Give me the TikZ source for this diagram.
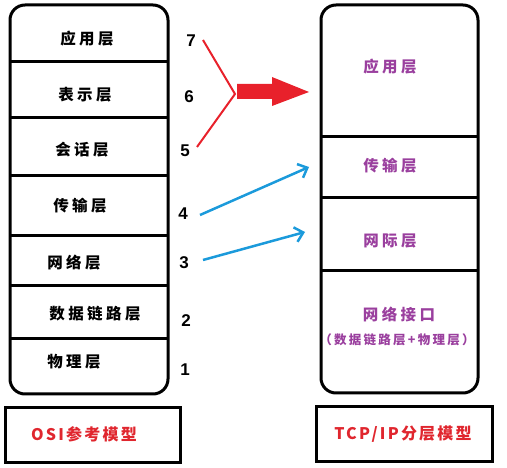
\documentclass[tikz,border=0pt]{standalone}
\usepackage{fontspec}
\newfontfamily\cjk[LetterSpace=22]{Noto Sans CJK SC}
\newfontfamily\cjktitle[LetterSpace=14]{Noto Sans CJK SC}
\newfontfamily\cjksmall[LetterSpace=18]{Noto Sans CJK SC}
\newfontfamily\numfont{Liberation Sans}
\definecolor{layerpurple}{HTML}{9A3F9E}
\definecolor{titlered}{HTML}{E0262E}
\definecolor{linkred}{HTML}{E8212B}
\definecolor{linkblue}{HTML}{1B9ADB}
\usetikzlibrary{arrows.meta}
\tikzset{
  frame/.style={draw=black, line width=3pt},
  divider/.style={draw=black, line width=3pt},
  osilabel/.style={font=\cjk\bfseries\fontsize{15.5}{16}\selectfont, text=black, inner sep=0pt},
  tcplabel/.style={font=\cjk\bfseries\fontsize{15.5}{16}\selectfont, text=layerpurple, inner sep=0pt},
  tcpsub/.style={font=\cjksmall\bfseries\fontsize{12.5}{13}\selectfont, text=layerpurple, inner sep=0pt},
  layernum/.style={font=\numfont\bfseries\fontsize{17}{17}\selectfont, inner sep=0pt},
  title/.style={font=\cjktitle\bfseries\fontsize{16}{16}\selectfont, text=titlered, inner sep=0pt},
  redlink/.style={draw=linkred, line width=2pt},
  bluelink/.style={draw=linkblue, line width=2.5pt, -{Straight Barb[length=8pt, width=15pt, line width=2.5pt]}},
}
\begin{document}
\begin{tikzpicture}[x=1pt, y=-1pt]
\useasboundingbox (0,0) rectangle (507,468);

% OSI seven-layer stack
\draw[frame, rounded corners=15pt] (10,5) rectangle (168,394);
\foreach \yy in {62,118,176,236,286,339}
  \draw[divider] (10,\yy) -- (168,\yy);
\node[osilabel] (osi7) at (87,39) {应用层};
\node[osilabel] (osi6) at (85,95) {表示层};
\node[osilabel] (osi5) at (82,150) {会话层};
\node[osilabel] (osi4) at (80,206) {传输层};
\node[osilabel] (osi3) at (74,263) {网络层};
\node[osilabel] (osi2) at (95,314) {数据链路层};
\node[osilabel] (osi1) at (74,362) {物理层};

\node[layernum] (n7) at (191,41) {7};
\node[layernum] (n6) at (189,97) {6};
\node[layernum] (n5) at (185,151) {5};
\node[layernum] (n4) at (183,214) {4};
\node[layernum] (n3) at (184,263) {3};
\node[layernum] (n2) at (186,321) {2};
\node[layernum] (n1) at (185,370) {1};

% TCP/IP four-layer stack
\draw[frame, rounded corners=15pt] (321,5) rectangle (478,393);
\foreach \yy in {137,198,271}
  \draw[divider] (321,\yy) -- (478,\yy);
\node[tcplabel] (tcp4) at (390,67) {应用层};
\node[tcplabel] (tcp3) at (390,166) {传输层};
\node[tcplabel] (tcp2) at (390,241) {网际层};
\node[tcplabel] (tcp1) at (399,315) {网络接口};
\node[tcpsub] (tcp1sub) at (397,340) {（数据链路层+物理层）};

% upper three layers merge into the application layer
\coordinate (r7) at (203,40);
\coordinate (rv) at (235,94);
\coordinate (r5) at (197,147);
\draw[redlink] (r7) -- (rv) -- (r5);
\fill[linkred] (237,84) -- (272,84) -- (272,77) -- (309,92) -- (272,106) -- (272,99) -- (237,99) -- cycle;

% transport and network layers
\coordinate (b4s) at (200,215);
\coordinate (b4e) at (309,167);
\coordinate (b3s) at (203,260);
\coordinate (b3e) at (305,232);
\draw[bluelink] (b4s) -- (b4e);
\draw[bluelink] (b3s) -- (b3e);

% captions
\draw[draw=black, line width=3pt] (5,408) rectangle (180,462);
\node[title] (osititle) at (84,434) {OSI参考模型};
\draw[draw=black, line width=3pt] (316,407) rectangle (492,461);
\node[title] (tcptitle) at (403,434) {TCP/IP分层模型};
\end{tikzpicture}
\end{document}
